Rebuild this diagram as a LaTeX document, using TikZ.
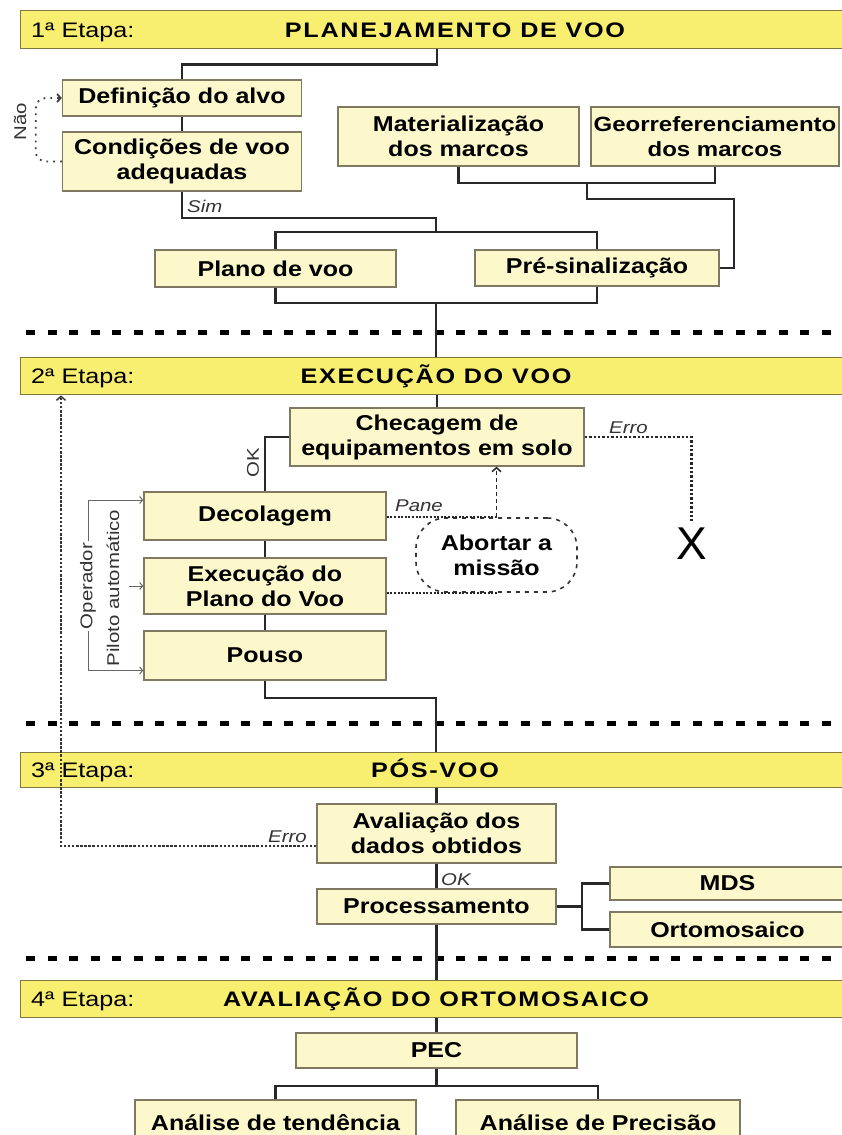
\documentclass[tikz,border=0pt]{standalone}
\usepackage{fontspec}
\setmainfont{Liberation Sans}[FakeStretch=1.2]
\newfontfamily\boxfont{Liberation Sans}[FakeStretch=1.165]
\newfontfamily\hdrfont{Liberation Sans}[FakeStretch=1.2,LetterSpace=8]
\newfontfamily\plainfont{Liberation Sans}
\usetikzlibrary{arrows.meta,calc}
\definecolor{boxfill}{RGB}{252,248,204}
\definecolor{boxline}{RGB}{128,121,98}
\definecolor{barfill}{RGB}{248,238,112}
\definecolor{barline}{RGB}{128,118,64}
\definecolor{lnk}{RGB}{40,40,40}
\tikzset{
  box/.style={draw=boxline, line width=1.4pt, fill=boxfill, inner sep=0pt, align=center,
    font=\boxfont\fontsize{21.5}{25}\selectfont\bfseries},
  bar/.style={draw=barline, line width=1.4pt, fill=barfill, inner sep=0pt},
  bartxt/.style={font=\fontsize{21}{24}\selectfont, inner sep=0pt},
  title/.style={font=\hdrfont\fontsize{21}{24}\selectfont\bfseries, inner sep=0pt},
  link/.style={draw=lnk, line width=2.2pt},
  sep/.style={line width=5pt, dash pattern=on 9pt off 12.5pt, black},
  lbl/.style={font=\fontsize{17}{19}\selectfont\itshape, text=black!80, inner sep=0pt},
  lblr/.style={font=\fontsize{17}{19}\selectfont, text=black!80, inner sep=1pt},
  errline/.style={line width=2.4pt, dash pattern=on 2.4pt off 2pt, black!85},
  pane/.style={line width=1.6pt, dash pattern=on 2pt off 1.6pt, black!85},
  abortbox/.style={draw=black!80, line width=1.6pt, dash pattern=on 4pt off 5pt,
    rounded corners=30pt, inner sep=0pt, align=center,
    font=\boxfont\fontsize{21.5}{25}\selectfont\bfseries},
  abarrow/.style={line width=1.5pt, dash pattern=on 4pt off 3pt, black!85,
    -{Straight Barb[length=4pt,width=9pt]}},
  ret/.style={line width=1.4pt, dash pattern=on 2.5pt off 1.6pt, black!80,
    -{Straight Barb[length=4pt,width=9pt]}},
  nao/.style={line width=1.8pt, dash pattern=on 1.8pt off 5pt, black!75, rounded corners=10pt,
    -{Straight Barb[length=3.5pt,width=8pt]}},
  brk/.style={draw=black!60, line width=1pt, -{Straight Barb[length=3pt,width=7pt]}}
}
\begin{document}
\begin{tikzpicture}[x=1pt,y=-1pt]
\useasboundingbox (0,0) rectangle (842,1135);
\clip (0,0) rectangle (842,1135);
\fill[white] (0,0) rectangle (842,1135);

% separators
\draw[sep] (26,332) -- (850,332);
\draw[sep] (26,723) -- (850,723);
\draw[sep] (26,958) -- (850,958);

% header bars
\node[bar, anchor=north west, minimum width=830, minimum height=38] (bar1) at (20,10) {};
\node[bar, anchor=north west, minimum width=830, minimum height=37] (bar2) at (20,357) {};
\node[bar, anchor=north west, minimum width=830, minimum height=35] (bar3) at (20,752) {};
\node[bar, anchor=north west, minimum width=830, minimum height=37] (bar4) at (20,980) {};
\node[bartxt, anchor=base west] (e1) at (31,37) {1ª Etapa:};
\node[title, anchor=base] (t1) at (455,37) {PLANEJAMENTO DE VOO};
\node[bartxt, anchor=base west] (e2) at (31,383) {2ª Etapa:};
\node[title, anchor=base] (t2) at (436,383) {EXECUÇÃO DO VOO};
\node[bartxt, anchor=base west] (e3) at (31,777) {3ª Etapa:};
\node[title, anchor=base] (t3) at (435,777) {PÓS-VOO};
\node[bartxt, anchor=base west] (e4) at (31,1006) {4ª Etapa:};
\node[title, anchor=base] (t4) at (436,1006) {AVALIAÇÃO DO ORTOMOSAICO};

% boxes
\node[box, minimum width=239, minimum height=36] (defin) at (182,98) {Definição do alvo};
\node[box, minimum width=239, minimum height=59] (cond) at (182,161.5) {Condições de voo\\adequadas};
\node[box, minimum width=241, minimum height=59] (mater) at (458.5,136.5) {Materialização\\dos marcos};
\node[box, minimum width=248, minimum height=59, font=\boxfont\fontsize{20.6}{25}\selectfont\bfseries] (georef) at (715,136.5) {Georreferenciamento\\dos marcos};
\node[box, minimum width=241, minimum height=37] (plano) at (275.5,268.5) {Plano de voo};
\node[box, minimum width=244, minimum height=36] (presin) at (597,268) {Pré-sinalização};
\node[box, minimum width=294, minimum height=58] (checa) at (437,437) {Checagem de\\equipamentos em solo};
\node[box, minimum width=242, minimum height=48] (decol) at (265,516) {Decolagem};
\node[box, minimum width=242, minimum height=56] (exec) at (265,586) {Execução do\\Plano do Voo};
\node[box, minimum width=242, minimum height=49] (pouso) at (265,655.5) {Pouso};
\node[abortbox, minimum width=161, minimum height=74] (abort) at (496.5,555) {Abortar a\\missão};
\node[box, minimum width=239, minimum height=59] (aval) at (436.5,833.5) {Avaliação dos\\dados obtidos};
\node[box, minimum width=239, minimum height=35] (proc) at (436.5,906.5) {Processamento};
\node[box, minimum width=235, minimum height=33] (mds) at (727.5,883.5) {MDS};
\node[box, minimum width=235, minimum height=35] (orto) at (727.5,929.5) {Ortomosaico};
\node[box, minimum width=281, minimum height=35] (pec) at (436.5,1050.5) {PEC};
\node[box, minimum width=281, minimum height=45] (tend) at (275.5,1122.5) {Análise de tendência};
\node[box, minimum width=284, minimum height=45] (prec) at (598,1122.5) {Análise de Precisão};
\node[font=\plainfont\fontsize{46}{46}\selectfont, inner sep=0pt] (xmark) at (691.5,544) {X};

% junction coordinates
\coordinate (jA) at (436,232);
\coordinate (jD) at (436,303);
\coordinate (jE) at (436,698);

% solid connectors
\draw[link] (checa.north |- bar1.south) -- ++(0,15) -| (defin.north);
\draw[link] (defin.south) -- (cond.north);
\draw[link] (cond.south) -- ++(0,26) -| (jA);
\draw[link] (plano.north) |- (jA) -| (presin.north);
\draw[link] (mater.south) -- ++(0,16) coordinate (jB) -| (georef.south);
\draw[link] ($(jB)!0.5!(jB -| georef.south)$) -- ++(0,16) -| ([xshift=14pt]presin.east) -- (presin.east);
\draw[link] (plano.south) |- (jD) -| (presin.south);
\draw[link] (jD) -- (jD |- bar2.north);
\draw[link] (checa.north |- bar2.south) -- (checa.north);
\draw[link] (checa.west) -| (decol.north);
\draw[link] (decol.south) -- (exec.north);
\draw[link] (exec.south) -- (pouso.north);
\draw[link] (pouso.south) |- (jE) -- (jE |- bar3.north);
\draw[link] (aval.north |- bar3.south) -- (aval.north);
\draw[link] (aval.south) -- (proc.north);
\draw[link] (mds.west) -- ++(-27,0) coordinate (jF) |- (orto.west);
\draw[link] (proc.east) -- (proc.east -| jF);
\draw[link] (proc.south) -- (proc.south |- bar4.north);
\draw[link] (pec.north |- bar4.south) -- (pec.north);
\draw[link] (pec.south) -- ++(0,17) coordinate (jG);
\draw[link] (tend.north) |- (jG) -| (prec.north);

% dotted / dashed connectors
\draw[nao] (cond.west) -- ++(-26,0) |- (defin.west);
\draw[errline] (checa.east) -| ([yshift=7pt]xmark.north);
\draw[pane] (decol.east |- abort.north) -- (abort.north);
\draw[pane] (exec.east |- abort.south) -- (abort.south);
\draw[abarrow] (abort.north) -- (abort.north |- checa.south);
\draw[ret] ([yshift=-12.5pt]aval.west) -| ([xshift=41pt]bar2.south west);

% operator bracket
\node[lblr, rotate=90, fill=white, inner sep=2pt] (op) at (88,586) {Operador};
\node[lblr, rotate=90] (pil) at (113,588) {Piloto automático};
\draw[brk] (op.east) |- ([yshift=16pt]decol.west);
\draw[brk] (op.west) |- ([yshift=-15pt]pouso.west);
\draw[brk] ([xshift=-14pt]exec.west) -- (exec.west);

% labels
\node[lbl, anchor=base west] (sim) at (187,212) {Sim};
\node[lblr, rotate=90] (nao) at (20,122) {Não};
\node[lblr, rotate=90] (ok1) at (253,463) {OK};
\node[lbl, anchor=base west] (erro1) at (609,433) {Erro};
\node[lbl, anchor=base west] (pane) at (395,511) {Pane};
\node[lbl, anchor=base west] (erro2) at (268,842) {Erro};
\node[lbl, anchor=base west] (ok2) at (441,885) {OK};
\end{tikzpicture}
\end{document}
